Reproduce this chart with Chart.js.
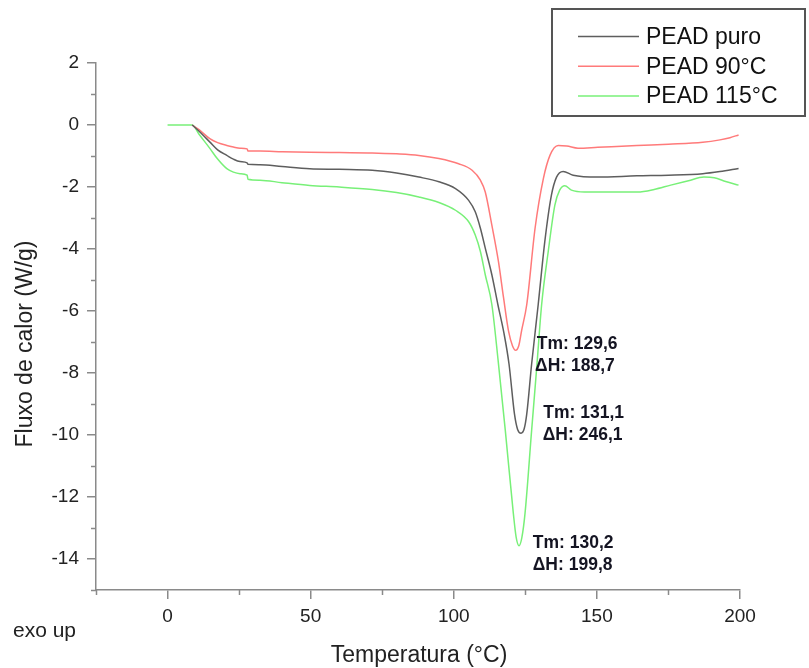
<!DOCTYPE html>
<html><head><meta charset="utf-8">
<script src="https://cdn.jsdelivr.net/npm/chart.js@4.4.1/dist/chart.umd.min.js"></script>
<style>html,body{margin:0;padding:0;background:#fff;}#wrap{width:809px;height:668px;position:relative;}</style>
</head><body><div id="wrap"><canvas id="c" width="809" height="668"></canvas></div>
<script>
// ---- data ----
const seriesNames = ['PEAD puro', 'PEAD 90°C', 'PEAD 115°C'];

const tempPuro = [8.6, 11, 14.9, 17.5, 20.7, 23, 25.3, 27.8, 28.1, 32.3, 40, 49.7, 60, 71.5, 80, 87.8, 94.8, 100.6, 105.2, 107.5, 109.3, 111, 113.3, 115.4, 117.5, 119.3, 121.2, 122.3, 123.5, 124.6, 125.5, 127.2, 129.5, 131.8, 134.1, 135.9, 138.2, 141.7, 150.3, 164, 175, 187, 193, 199.5];
const fluxPuro = [0, -0.2, -0.56, -0.8, -0.98, -1.1, -1.18, -1.22, -1.27, -1.28, -1.34, -1.41, -1.43, -1.46, -1.55, -1.68, -1.83, -2.05, -2.43, -2.8, -3.33, -3.97, -4.83, -5.79, -6.7, -7.71, -9.32, -9.82, -9.94, -9.8, -9.32, -7.71, -5.79, -3.76, -2.27, -1.68, -1.5, -1.62, -1.68, -1.64, -1.62, -1.57, -1.5, -1.4];

const temp90 = [8.6, 11, 14.9, 17.5, 20.7, 23, 25.3, 27.8, 28.1, 32.3, 40, 49.7, 60, 71.5, 80, 87.8, 94.8, 101.7, 106.4, 109.3, 111, 113.3, 115.6, 117.4, 119.1, 120.5, 121.6, 122.7, 123.7, 125.5, 128.4, 131.3, 133.6, 136.5, 139.5, 143.4, 150.3, 164, 175, 187, 193, 196.5, 199.5];
const flux90 = [0, -0.15, -0.45, -0.57, -0.66, -0.71, -0.75, -0.77, -0.84, -0.84, -0.86, -0.88, -0.89, -0.9, -0.93, -0.98, -1.08, -1.25, -1.46, -1.78, -2.16, -3.23, -4.4, -5.58, -6.63, -7.12, -7.27, -7.12, -6.63, -5.79, -3.33, -1.73, -0.98, -0.66, -0.68, -0.75, -0.72, -0.66, -0.62, -0.56, -0.48, -0.41, -0.32];

const temp115 = [0, 8.6, 11, 14.9, 17.5, 20.7, 23, 25.3, 27.8, 28.1, 32.3, 40, 49.7, 60, 71.5, 80, 87.8, 94.8, 100.6, 105.2, 107.5, 109.3, 111, 113.3, 115.5, 118, 120.8, 121.8, 122.8, 123.8, 124.9, 127.2, 129, 130.7, 133, 135.3, 137, 138.8, 141.1, 145.7, 150.3, 164.2, 170, 175.8, 182, 187.4, 191, 195, 199.5];
const flux115 = [0, 0, -0.3, -0.77, -1.1, -1.41, -1.52, -1.57, -1.62, -1.75, -1.78, -1.86, -1.95, -2.0, -2.08, -2.18, -2.32, -2.5, -2.75, -3.12, -3.55, -4.08, -4.83, -5.79, -7.6, -9.85, -12.52, -13.3, -13.57, -13.3, -12.52, -9.85, -7.8, -5.79, -4.08, -2.59, -2.1, -1.96, -2.1, -2.16, -2.16, -2.16, -2.08, -1.94, -1.8, -1.68, -1.7, -1.82, -1.94];

const xTickLabels = [0, 50, 100, 150, 200];
const yTickLabels = [2, 0, -2, -4, -6, -8, -10, -12, -14];

const annotTexts = ['Tm: 129,6', 'ΔH: 188,7', 'Tm: 131,1', 'ΔH: 246,1', 'Tm: 130,2', 'ΔH: 199,8'];
const annotTemps = [129.0, 128.4, 131.3, 131.1, 127.6, 127.6];
const annotFlux  = [-7.23, -7.95, -9.45, -10.15, -13.65, -14.35];

const xTitle = 'Temperatura (°C)';
const yTitle = 'Fluxo de calor (W/g)';
const cornerNote = 'exo up';

// ---- build ----
const colors = ['#5e5e5e', '#ff7a7a', '#78f078'];
function pts(t, v) { return t.map((x, i) => ({x: x, y: v[i]})); }
const datasets = [
  {label: seriesNames[0], data: pts(tempPuro, fluxPuro)},
  {label: seriesNames[1], data: pts(temp90, flux90)},
  {label: seriesNames[2], data: pts(temp115, flux115)}
].map((d, i) => Object.assign(d, {
  borderColor: colors[i], backgroundColor: colors[i], borderWidth: 1.5,
  pointRadius: 0, fill: false, cubicInterpolationMode: 'monotone'
}));

const FONT = '"Liberation Sans", Arial, Helvetica, sans-serif';
const AXIS = '#8a8a8a';

const extras = {
  id: 'extras',
  afterDraw(chart) {
    const {ctx, scales: {x, y}, chartArea: ca} = chart;
    ctx.save();
    // minor ticks
    ctx.strokeStyle = AXIS; ctx.lineWidth = 1.5;
    ctx.beginPath();
    for (let v = -15; v <= 2; v++) {
      if (!yTickLabels.includes(v)) {
        const py = Math.round(y.getPixelForValue(v)) + 0.5;
        ctx.moveTo(ca.left - 5, py); ctx.lineTo(ca.left, py);
      }
    }
    for (let v = -25; v <= 200; v += 25) {
      if (!xTickLabels.includes(v)) {
        const px = Math.round(x.getPixelForValue(v)) + 0.5;
        ctx.moveTo(px, ca.bottom); ctx.lineTo(px, ca.bottom + 5);
      }
    }
    ctx.stroke();

    // annotations
    ctx.fillStyle = '#141422';
    ctx.font = 'bold 17.5px ' + FONT;
    ctx.textAlign = 'left'; ctx.textBaseline = 'alphabetic';
    annotTexts.forEach((t, i) => {
      ctx.fillText(t, x.getPixelForValue(annotTemps[i]), y.getPixelForValue(annotFlux[i]));
    });

    // titles
    ctx.fillStyle = '#222';
    ctx.font = '23px ' + FONT;
    ctx.textAlign = 'center'; ctx.textBaseline = 'alphabetic';
    ctx.fillText(xTitle, (ca.left + ca.right) / 2 + 1, 662);
    ctx.save();
    ctx.translate(32, 344); ctx.rotate(-Math.PI / 2);
    ctx.fillText(yTitle, 0, 0);
    ctx.restore();
    ctx.font = '21px ' + FONT;
    ctx.textAlign = 'left';
    ctx.fillText(cornerNote, 13, 637);

    // legend box
    ctx.strokeStyle = '#555'; ctx.lineWidth = 2;
    ctx.strokeRect(552, 9, 253, 107);
    ctx.font = '23px ' + FONT;
    ctx.textBaseline = 'middle';
    chart.data.datasets.forEach((d, i) => {
      const ly = 36.5 + i * 29.8;
      ctx.strokeStyle = d.borderColor; ctx.lineWidth = 1.5;
      ctx.beginPath(); ctx.moveTo(578, ly); ctx.lineTo(639, ly); ctx.stroke();
      ctx.fillStyle = '#111';
      ctx.fillText(d.label, 646, ly + 1);
    });
    ctx.restore();
  }
};

new Chart(document.getElementById('c'), {
  type: 'line',
  data: {datasets: datasets},
  options: {
    responsive: false, animation: false,
    layout: {padding: {top: 63, right: 69, left: 0, bottom: 0}},
    plugins: {legend: {display: false}, tooltip: {enabled: false}},
    scales: {
      x: {
        type: 'linear', min: -25, max: 200,
        afterFit(s) { s.height = 78; },
        border: {display: true, color: AXIS, width: 1.5},
        grid: {drawOnChartArea: false, drawTicks: true, tickLength: 9, lineWidth: 1.5,
               color: c => (c.tick && xTickLabels.includes(c.tick.value)) ? AXIS : 'rgba(0,0,0,0)'},
        ticks: {stepSize: 25, autoSkip: false, maxRotation: 0, padding: 6, color: '#222',
                font: {family: FONT, size: 19},
                callback: v => xTickLabels.includes(v) ? String(v) : ''}
      },
      y: {
        type: 'linear', min: -15, max: 2,
        afterFit(s) { s.width = 96; },
        border: {display: true, color: AXIS, width: 1.5},
        grid: {drawOnChartArea: false, drawTicks: true, tickLength: 9, lineWidth: 1.5,
               color: c => (c.tick && yTickLabels.includes(c.tick.value)) ? AXIS : 'rgba(0,0,0,0)'},
        ticks: {stepSize: 1, autoSkip: false, padding: 8, color: '#222',
                font: {family: FONT, size: 19},
                callback: v => yTickLabels.includes(v) ? String(v) : ''}
      }
    }
  },
  plugins: [extras]
});
</script>
</body></html>
